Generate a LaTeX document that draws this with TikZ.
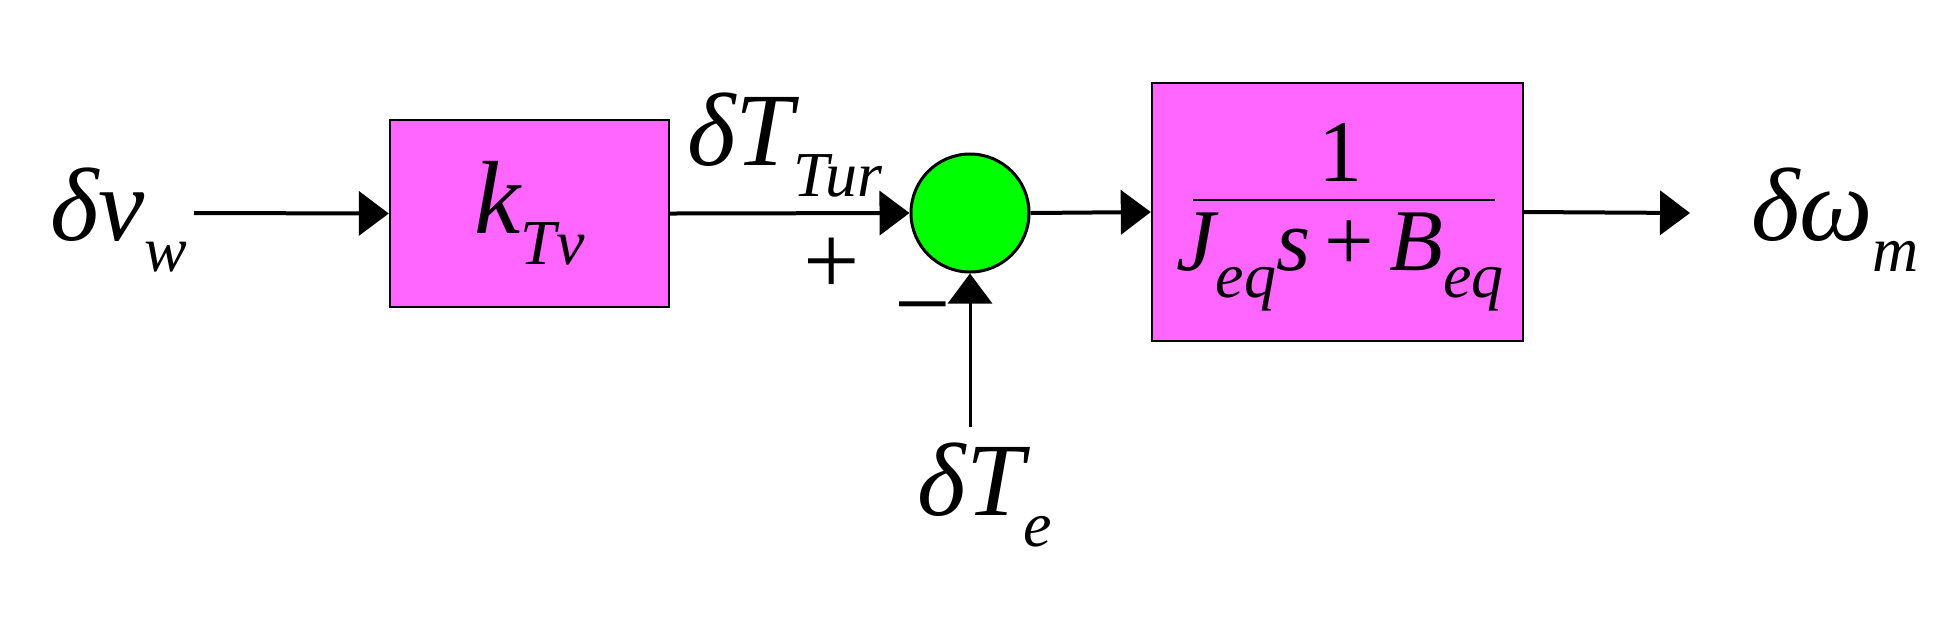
\documentclass[tikz,border=0pt]{standalone}
\usepackage{fontspec}
\setmainfont{Liberation Serif}
\usetikzlibrary{arrows.meta}
\definecolor{pinkm}{HTML}{FF66FF}
\newcommand{\sbs}[1]{\raisebox{-0.3em}{\fontsize{32}{36}\selectfont #1}}
\begin{document}
\begin{tikzpicture}[x=0.5pt,y=-0.5pt,
  blk/.style={draw=black,line width=1.2pt,fill=pinkm,inner sep=0pt},
  con/.style={line width=2pt,-{Triangle[length=15pt,width=22pt]}},
  lbl/.style={font=\fontsize{52}{58}\selectfont\itshape,inner sep=0pt}]
\useasboundingbox (0,0) rectangle (1942,629);
\node[blk,minimum width=279pt*0.5,minimum height=187pt*0.5] (k) at (529.5,213.5) {};
\node[lbl] at (529.5,213) {k\sbs{Tv}};
\node[circle,draw=black,line width=1.5pt,fill=green,minimum size=59pt,inner sep=0pt] (s) at (970,213) {};
\node[blk,minimum width=371pt*0.5,minimum height=258pt*0.5] (g) at (1337.5,212) {};
\draw[line width=1pt] (1193,200) -- (1495,200);
\node[font=\fontsize{44}{50}\selectfont,inner sep=0pt] (one) at (1340,152) {1};
\node[font=\fontsize{44}{50}\selectfont\itshape,inner sep=0pt] (den) at (1340,262) {J\sbs{eq}s\,{\upshape+}\,B\sbs{eq}};
\node[lbl,anchor=east] (vw) at (188,220) {δv\sbs{w}};
\coordinate (in) at (194,213);
\coordinate (out) at (1690,213);
\coordinate (te) at (970,427);
\draw[con] (in) -- (k.west);
\draw[con] (k.east) -- (s.west);
\draw[con] (s.east) -- (g.west);
\draw[con] (g.east) -- (out);
\draw[con,line width=1.5pt] (te) -- (s.south);
\node[lbl] (tt) at (785,145) {δT\sbs{Tur}};
\node[font=\fontsize{50}{50}\selectfont,inner sep=0pt] (p) at (832,266) {+};
\node[font=\fontsize{50}{50}\selectfont,inner sep=0pt] (m) at (923,320) {−};
\node[lbl] (tE) at (985,495) {δT\sbs{e}};
\node[lbl] (wm) at (1835,220) {δω\sbs{m}};
\end{tikzpicture}
\end{document}
